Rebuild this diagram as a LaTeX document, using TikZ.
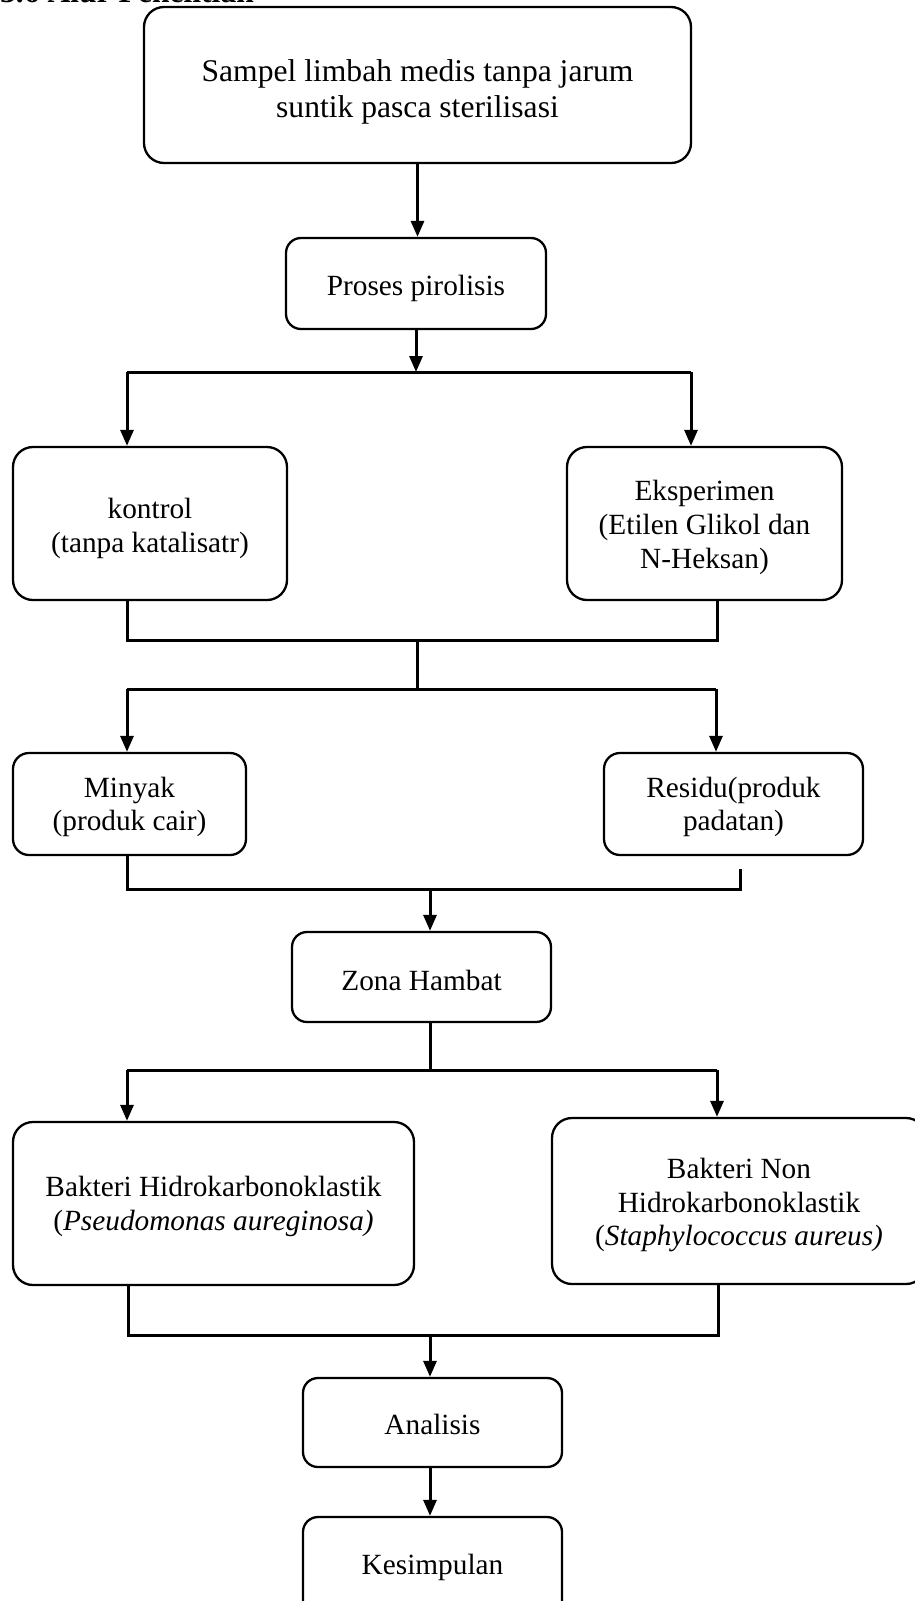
\documentclass[tikz,border=0pt]{standalone}
\usepackage{fontspec}
\setmainfont{Liberation Serif}
\usetikzlibrary{arrows.meta}
\begin{document}
\begin{tikzpicture}[x=1pt,y=-1pt,
  box/.style={draw, line width=2.3pt, rounded corners=#1, inner sep=0pt},
  box/.default=16pt,
  boxtext/.style={align=center, inner sep=0pt, font=\fontsize{29.3}{33.7}\selectfont},
  conn/.style={line width=3pt},
  arr/.style={line width=3pt, -{Triangle[length=16pt,width=13pt]}}]
\useasboundingbox (0,0) rectangle (915,1601);
\clip (0,0) rectangle (915,1601);

\node[anchor=base west, inner sep=0pt, font=\bfseries\fontsize{31.6}{36}\selectfont] (title) at (0,2) {3.6 Alur Penelitian};

% boxes
\node[box=20pt, minimum width=547pt, minimum height=156pt] (top) at (417.5,85) {};
\node[box=15pt, minimum width=260pt, minimum height=91pt] (proses) at (416,283.5) {};
\node[box=20pt, minimum width=274pt, minimum height=153pt] (kontrol) at (150,523.5) {};
\node[box=20pt, minimum width=275pt, minimum height=153pt] (eksp) at (704.5,523.5) {};
\node[box=16pt, minimum width=233pt, minimum height=102pt] (minyak) at (129.5,804) {};
\node[box=16pt, minimum width=259pt, minimum height=102pt] (residu) at (733.5,804) {};
\node[box=15pt, minimum width=259pt, minimum height=90pt] (zona) at (421.5,977) {};
\node[box=20pt, minimum width=401pt, minimum height=163pt] (bakL) at (213.5,1203.5) {};
\node[box=20pt, minimum width=374pt, minimum height=166pt] (bakR) at (739,1201) {};
\node[box=15pt, minimum width=259pt, minimum height=89pt] (analisis) at (432.5,1422.5) {};
\node[box=15pt, minimum width=259pt, minimum height=100pt] (kesimpulan) at (432.5,1567) {};

% texts
\node[boxtext, font=\fontsize{31.6}{35.5}\selectfont] (top-t) at ([yshift=-7pt]top.center)
  {Sampel limbah medis tanpa jarum\\suntik pasca sterilisasi};
\node[boxtext] (proses-t) at ([yshift=-5pt]proses.center) {Proses pirolisis};
\node[boxtext] (kontrol-t) at ([yshift=-5pt]kontrol.center) {kontrol\\(tanpa katalisatr)};
\node[boxtext] (eksp-t) at ([yshift=-4pt]eksp.center) {Eksperimen\\(Etilen Glikol dan\\N-Heksan)};
\node[boxtext] (minyak-t) at ([yshift=-3pt]minyak.center) {Minyak\\(produk cair)};
\node[boxtext] (residu-t) at ([yshift=-3pt]residu.center) {Residu(produk\\padatan)};
\node[boxtext] (zona-t) at ([yshift=-3pt]zona.center) {Zona Hambat};
\node[boxtext] (bakL-t) at ([yshift=-3pt]bakL.center)
  {Bakteri Hidrokarbonoklastik\\(\textit{Pseudomonas aureginosa)}};
\node[boxtext] (bakR-t) at ([yshift=-4pt]bakR.center)
  {Bakteri Non\\Hidrokarbonoklastik\\(\textit{Staphylococcus aureus)}};
\node[boxtext] (analisis-t) at ([yshift=-2pt]analisis.center) {Analisis};
\node[boxtext] (kesimpulan-t) at (kesimpulan.center) {Kesimpulan};

% junction coordinates
\coordinate (j1) at (416,372);
\coordinate (j1l) at (127,372);
\coordinate (j1r) at (691,372);
\coordinate (j2l) at (127,640);
\coordinate (j2r) at (717,640);
\coordinate (j2c) at (417,640);
\coordinate (j3c) at (417,689);
\coordinate (j3l) at (127,689);
\coordinate (j3r) at (716,689);
\coordinate (j4l) at (127,889);
\coordinate (j4r) at (740,889);
\coordinate (j4c) at (430,889);
\coordinate (rtop) at (740,869);
\coordinate (j5c) at (430,1070);
\coordinate (j5l) at (127,1070);
\coordinate (j5r) at (717,1070);
\coordinate (j6l) at (128,1335);
\coordinate (j6r) at (718,1335);
\coordinate (j6c) at (430,1335);

\draw[arr] (top.south) -- (top.south |- proses.north);
\draw[arr] (proses.south) -- (j1);
\draw[conn] (j1l) -- (j1r);
\draw[arr] (j1l) -- (j1l |- kontrol.north);
\draw[arr] (j1r) -- (j1r |- eksp.north);

\draw[conn] (j2l |- kontrol.south) -- (j2l) -- (j2r) -- (j2r |- eksp.south);
\draw[conn] (j2c) -- (j3c);
\draw[conn] (j3l) -- (j3r);
\draw[arr] (j3l) -- (j3l |- minyak.north);
\draw[arr] (j3r) -- (j3r |- residu.north);

\draw[conn] (j4l |- minyak.south) -- (j4l) -- (j4r) -- (rtop);
\draw[arr] (j4c) -- (j4c |- zona.north);

\draw[conn] (j5c |- zona.south) -- (j5c);
\draw[conn] (j5l) -- (j5r);
\draw[arr] (j5l) -- (j5l |- bakL.north);
\draw[arr] (j5r) -- (j5r |- bakR.north);

\draw[conn] (j6l |- bakL.south) -- (j6l) -- (j6r) -- (j6r |- bakR.south);
\draw[arr] (j6c) -- (j6c |- analisis.north);
\draw[arr] (j6c |- analisis.south) -- (j6c |- kesimpulan.north);
\end{tikzpicture}
\end{document}
